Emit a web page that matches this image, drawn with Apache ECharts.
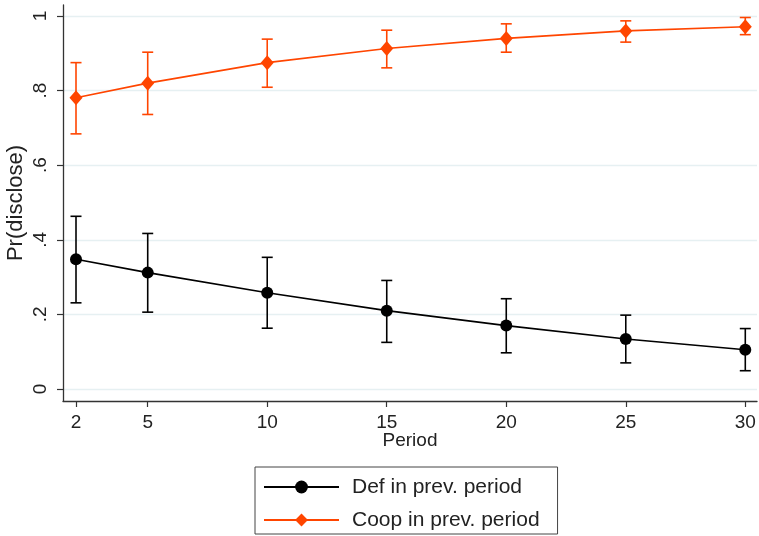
<!DOCTYPE html>
<html><head><meta charset="utf-8">
<script src="https://cdn.jsdelivr.net/npm/echarts@6/dist/echarts.min.js"></script>
<style>html,body{margin:0;padding:0;background:#fff}#c{width:759px;height:536px}</style>
</head><body><div id="c"></div>
<script>
const periods = [2, 5, 10, 15, 20, 25, 30];
const defMean = [0.348, 0.312, 0.258, 0.210, 0.170, 0.134, 0.105];
const defLow  = [0.231, 0.206, 0.163, 0.125, 0.097, 0.070, 0.049];
const defHigh = [0.463, 0.417, 0.353, 0.291, 0.242, 0.198, 0.162];
const coopMean = [0.781, 0.820, 0.875, 0.913, 0.940, 0.960, 0.971];
const coopLow  = [0.684, 0.736, 0.809, 0.861, 0.903, 0.930, 0.950];
const coopHigh = [0.875, 0.903, 0.938, 0.962, 0.979, 0.987, 0.996];
const yTicks = [0, 0.2, 0.4, 0.6, 0.8, 1];
const seriesNames = ['Def in prev. period', 'Coop in prev. period'];
const xTitle = 'Period';
const yTitle = 'Pr(disclose)';

const BLACK = '#000000';
const ORANGE = '#FF4500';
const FONT = 'Liberation Sans, Arial, sans-serif';

function errRender(color) {
  return function (params, api) {
    const x = api.value(0), lo = api.value(1), hi = api.value(2);
    const pLo = api.coord([x, lo]), pHi = api.coord([x, hi]);
    const hw = 5.5;
    const style = { stroke: color, lineWidth: 1.6, fill: null };
    return { type: 'group', children: [
      { type: 'line', shape: { x1: pLo[0], y1: pLo[1], x2: pHi[0], y2: pHi[1] }, style: style },
      { type: 'line', shape: { x1: pLo[0] - hw, y1: pLo[1], x2: pLo[0] + hw, y2: pLo[1] }, style: style },
      { type: 'line', shape: { x1: pHi[0] - hw, y1: pHi[1], x2: pHi[0] + hw, y2: pHi[1] }, style: style }
    ]};
  };
}

const defPts = periods.map((p, i) => [p, defMean[i]]);
const coopPts = periods.map((p, i) => [p, coopMean[i]]);
const defErr = periods.map((p, i) => [p, defLow[i], defHigh[i]]);
const coopErr = periods.map((p, i) => [p, coopLow[i], coopHigh[i]]);

const chart = echarts.init(document.getElementById('c'), null, { renderer: 'canvas' });
chart.setOption({
  animation: false,
  backgroundColor: '#ffffff',
  textStyle: { fontFamily: FONT },
  grid: { left: 63, right: 2, top: 5, bottom: 135, containLabel: false, outerBoundsMode: 'none' },
  xAxis: {
    type: 'value', min: 1.456, max: 30.49,
    name: xTitle, nameLocation: 'middle', nameGap: 30, nameMoveOverlap: false,
    nameTextStyle: { fontSize: 19, color: '#222', fontFamily: FONT },
    axisLine: { show: true, onZero: false, lineStyle: { color: '#333', width: 1.3 } },
    axisTick: { show: true, length: 6, customValues: periods, lineStyle: { color: '#333', width: 1.2 } },
    axisLabel: { customValues: periods, fontSize: 19, color: '#222', margin: 12, fontFamily: FONT },
    splitLine: { show: false }
  },
  yAxis: {
    type: 'value', min: -0.0322, max: 1.0295,
    name: yTitle, nameLocation: 'middle', nameGap: 36, nameRotate: 90, nameMoveOverlap: false,
    nameTextStyle: { fontSize: 22, color: '#222', fontFamily: FONT },
    axisLine: { show: true, onZero: false, lineStyle: { color: '#333', width: 1.3 } },
    axisTick: { show: true, length: 6, customValues: yTicks, lineStyle: { color: '#333', width: 1.2 } },
    axisLabel: {
      customValues: yTicks, rotate: 90, fontSize: 19, color: '#222', margin: 13, fontFamily: FONT,
      formatter: function (v) { const s = String(Math.round(v * 10) / 10); return s.replace(/^0\./, '.'); }
    },
    splitLine: { show: true, lineStyle: { color: '#E6F0F2', width: 1.3 } }
  },
  legend: {
    data: seriesNames,
    orient: 'vertical',
    left: 255, top: 467,
    padding: [9, 18, 3, 8],
    itemWidth: 75, itemHeight: 16, itemGap: 11,
    borderColor: '#444', borderWidth: 1, borderRadius: 0,
    textStyle: { fontSize: 21, color: '#222', fontFamily: FONT, lineHeight: 22, padding: [0, 0, 0, 8] }
  },
  series: [
    { type: 'custom', name: 'defErr', renderItem: errRender(BLACK), data: defErr, encode: { x: 0, y: [1, 2] }, z: 1, silent: true },
    { type: 'custom', name: 'coopErr', renderItem: errRender(ORANGE), data: coopErr, encode: { x: 0, y: [1, 2] }, z: 1, silent: true },
    { type: 'line', name: seriesNames[0], data: defPts, symbol: 'circle', symbolSize: 12,
      lineStyle: { color: BLACK, width: 1.6 }, itemStyle: { color: BLACK }, z: 3 },
    { type: 'line', name: seriesNames[1], data: coopPts, symbol: 'diamond', symbolSize: [13, 15],
      lineStyle: { color: ORANGE, width: 1.6 }, itemStyle: { color: ORANGE }, z: 3 }
  ]
});
</script>
</body></html>
